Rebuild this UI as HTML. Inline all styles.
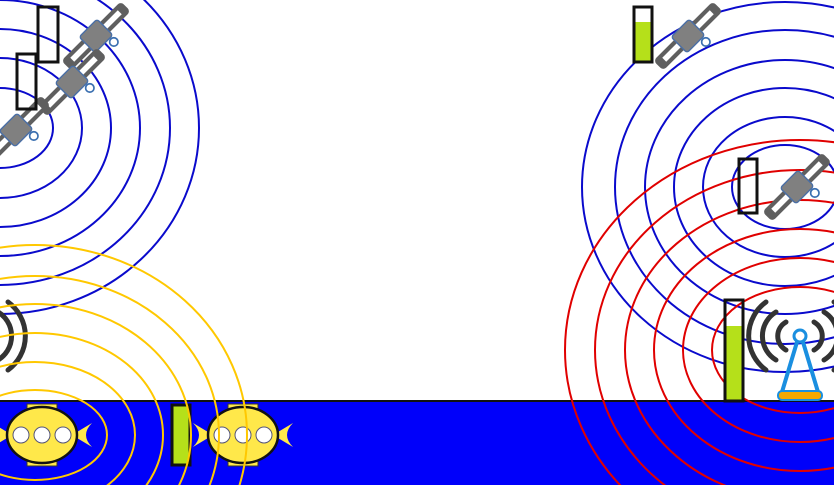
<!DOCTYPE html>
<html><head><meta charset="utf-8"><style>html,body{margin:0;padding:0;background:#fff;overflow:hidden;width:834px;height:485px}svg{display:block;overflow:hidden}</style></head>
<body>
<svg width="834" height="485" viewBox="0 0 834 485">
<defs>
<clipPath id="frame"><rect x="0" y="0" width="834" height="485"/></clipPath>
<g id="sat">
  <rect x="-30" y="-5" width="60" height="10" rx="3" fill="#5f5f5f"/>
  <rect x="-24" y="-2" width="18" height="4" fill="#fff"/>
  <rect x="6" y="-2" width="18" height="4" fill="#fff"/>
  <rect x="-9" y="-8" width="18" height="16" rx="2" fill="#808080" stroke="#4a6fa5" stroke-width="1"/>
  <circle cx="6" cy="12" r="3" fill="none" stroke="#3a6fb0" stroke-width="1.2"/>
</g>
<g id="sub">
  <rect x="-15" y="-31" width="30" height="62" fill="#ffe84a" stroke="#333" stroke-width="1"/>
  <path d="M-50,-12 Q-38,0 -50,12 L-30,0Z M50,-12 Q38,0 50,12 L30,0Z" fill="#ffe84a"/>
  <ellipse cx="0" cy="0" rx="35" ry="28" fill="#ffe84a" stroke="#111" stroke-width="2.5"/>
  <circle cx="-21" cy="0" r="8" fill="#fff" stroke="#557" stroke-width="1"/>
  <circle cx="0" cy="0" r="8" fill="#fff" stroke="#557" stroke-width="1"/>
  <circle cx="21" cy="0" r="8" fill="#fff" stroke="#557" stroke-width="1"/>
</g>
</defs>
<g clip-path="url(#frame)">
<rect x="0" y="401" width="834" height="84" fill="#0000fa"/>
<line x1="0" y1="401" x2="834" y2="401" stroke="#111" stroke-width="2"/>

<g fill="none" stroke="#0a0acc" stroke-width="2">
<ellipse cx="0" cy="128" rx="53" ry="40"/><ellipse cx="0" cy="128" rx="82" ry="70"/>
<ellipse cx="0" cy="128" rx="111" ry="99"/><ellipse cx="0" cy="128" rx="140" ry="128"/>
<ellipse cx="0" cy="128" rx="170" ry="157"/><ellipse cx="0" cy="128" rx="199" ry="186"/>
</g>
<g>
<use href="#sat" transform="translate(96,36) rotate(-45) scale(1.4)"/>
<use href="#sat" transform="translate(72,82) rotate(-45) scale(1.4)"/>
<use href="#sat" transform="translate(16,130) rotate(-45) scale(1.4)"/>
</g>
<rect x="38" y="7" width="20" height="55" fill="none" stroke="#111" stroke-width="3"/>
<rect x="17" y="54" width="19" height="55" fill="none" stroke="#111" stroke-width="3"/>

<g fill="none" stroke="#0a0acc" stroke-width="2">
<ellipse cx="785" cy="187" rx="53" ry="42"/><ellipse cx="785" cy="187" rx="82" ry="70"/>
<ellipse cx="785" cy="187" rx="111" ry="99"/><ellipse cx="785" cy="187" rx="140" ry="127"/>
<ellipse cx="785" cy="187" rx="170" ry="157"/><ellipse cx="785" cy="187" rx="203" ry="185"/>
</g>
<g fill="none" stroke="#e00000" stroke-width="2">
<ellipse cx="800" cy="350" rx="88" ry="63"/><ellipse cx="800" cy="350" rx="117" ry="92"/>
<ellipse cx="800" cy="350" rx="146" ry="121"/><ellipse cx="800" cy="350" rx="175" ry="150"/>
<ellipse cx="800" cy="350" rx="205" ry="180"/><ellipse cx="800" cy="350" rx="235" ry="210"/>
</g>
<use href="#sat" transform="translate(688,36) rotate(-45) scale(1.4)"/>
<use href="#sat" transform="translate(797,187) rotate(-45) scale(1.4)"/>
<rect x="634" y="22" width="18" height="40" fill="#b5e01a"/>
<rect x="634" y="7" width="18" height="55" fill="none" stroke="#111" stroke-width="3"/>
<rect x="739" y="159" width="18" height="54" fill="none" stroke="#111" stroke-width="3"/>
<rect x="725" y="326" width="18" height="75" fill="#b5e01a"/>
<rect x="725" y="300" width="18" height="101" fill="none" stroke="#111" stroke-width="3"/>

<g>
<g fill="none" stroke="#333" stroke-width="5" stroke-linecap="round">
<path d="M786,322 A16,16 0 0 0 786,350"/><path d="M776,312 A28,28 0 0 0 776,360"/><path d="M766,302 A42,42 0 0 0 766,370"/>
<path d="M814,322 A16,16 0 0 1 814,350"/><path d="M824,312 A28,28 0 0 1 824,360"/><path d="M834,302 A42,42 0 0 1 834,370"/>
<path d="M-2,312 A28,28 0 0 1 -2,360"/><path d="M8,302 A42,42 0 0 1 8,370"/>
</g>
<circle cx="800" cy="336" r="6" fill="#fff" stroke="#1a8fe0" stroke-width="3"/>
<path d="M797,342 L782,392 M803,342 L818,392" stroke="#1a8fe0" stroke-width="4"/>
<rect x="778" y="391" width="44" height="9" rx="4" fill="#f5a800" stroke="#1a8fe0" stroke-width="2"/>
</g>

<use href="#sub" transform="translate(42,435)"/>
<use href="#sub" transform="translate(243,435)"/>
<rect x="172" y="405" width="18" height="60" fill="#b5e01a" stroke="#111" stroke-width="3"/>

<g fill="none" stroke="#ffc800" stroke-width="2">
<ellipse cx="35" cy="435" rx="72" ry="45"/><ellipse cx="35" cy="435" rx="100" ry="73"/>
<ellipse cx="35" cy="435" rx="128" ry="102"/><ellipse cx="35" cy="435" rx="156" ry="131"/>
<ellipse cx="35" cy="435" rx="184" ry="159"/><ellipse cx="35" cy="435" rx="212" ry="190"/>
</g>
</g>
</svg>
</body></html>
